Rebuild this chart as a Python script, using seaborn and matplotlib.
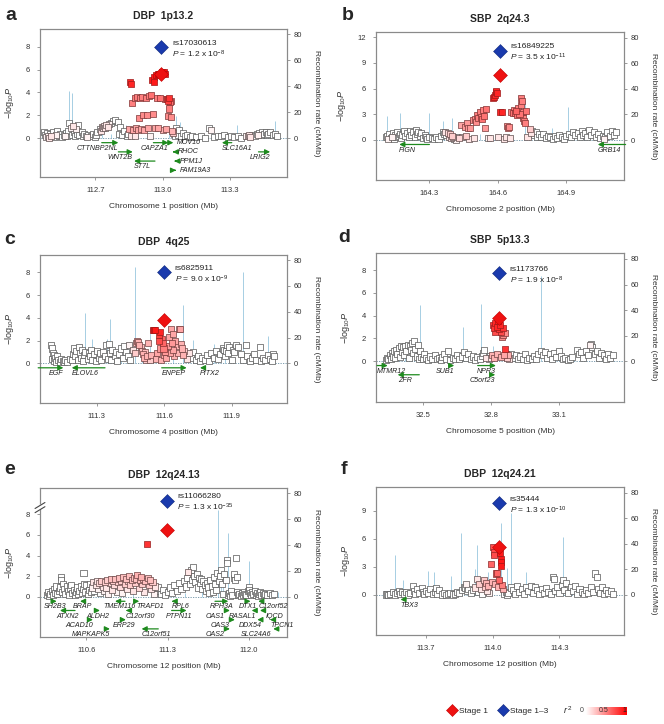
import numpy as np
import pandas as pd
import seaborn as sns
import matplotlib
matplotlib.use("Agg")
from matplotlib import pyplot as plt
from matplotlib.colors import LinearSegmentedColormap, Normalize
from matplotlib.cm import ScalarMappable
from matplotlib.lines import Line2D


# ---------------------------------------------------------------- data
# SNPs per panel: (position in Mb, -log10 P, r2 with the lead SNP)
a_snps = [
    (112.47, 0.55, 0), (112.475, 0.3, 0), (112.48, 0.1, 0.05), (112.485, 0.45, 0), (112.49, 0.2, 0.05),
    (112.495, 0.05, 0.1), (112.50, 0.35, 0), (112.505, 0.15, 0.1), (112.51, 0.5, 0), (112.52, 0.1, 0),
    (112.525, 0.3, 0.05), (112.53, 0.6, 0), (112.54, 0.2, 0), (112.545, 0.4, 0), (112.55, 0.1, 0),
    (112.56, 0.3, 0), (112.565, 0.15, 0.05), (112.57, 0.45, 0), (112.575, 0.2, 0), (112.58, 0.6, 0),
    (112.585, 1.35, 0), (112.59, 0.9, 0.05), (112.595, 0.3, 0), (112.60, 1.1, 0.1), (112.605, 0.5, 0),
    (112.61, 0.2, 0), (112.615, 0.8, 0.05), (112.62, 0.4, 0), (112.625, 1.15, 0), (112.63, 0.3, 0),
    (112.64, 0.5, 0), (112.645, 0.15, 0), (112.65, 0.35, 0), (112.66, 0.2, 0), (112.665, 0.1, 0.05),
    (112.67, 0.3, 0), (112.68, 0.15, 0), (112.69, 0.4, 0), (112.70, 0.1, 0), (112.705, 0.25, 0),
    (112.71, 0.5, 0), (112.72, 0.8, 0), (112.725, 0.6, 0.1), (112.73, 1.0, 0.1), (112.735, 0.85, 0.1),
    (112.74, 1.05, 0.1), (112.745, 0.9, 0.1), (112.75, 1.15, 0.1), (112.755, 1.0, 0.1), (112.76, 1.2, 0.05),
    (112.77, 1.35, 0), (112.78, 1.5, 0), (112.79, 1.6, 0), (112.80, 1.45, 0), (112.805, 0.4, 0),
    (112.81, 1.0, 0), (112.82, 0.3, 0), (112.83, 0.6, 0), (112.84, 0.2, 0), (112.845, 0.35, 0),
    (112.85, 0.8, 0.35), (112.855, 4.95, 0.85), (112.858, 4.75, 0.85), (112.86, 0.2, 0.1), (112.865, 3.1, 0.5),
    (112.87, 0.7, 0.35), (112.875, 3.55, 0.5), (112.878, 0.2, 0.1), (112.88, 0.85, 0.35), (112.885, 3.6, 0.5),
    (112.89, 0.75, 0.35), (112.893, 1.75, 0.45), (112.90, 3.55, 0.5), (112.905, 0.8, 0.35), (112.91, 3.6, 0.5),
    (112.912, 2.0, 0.45), (112.918, 0.75, 0.35), (112.925, 3.5, 0.5), (112.93, 2.05, 0.45), (112.935, 0.85, 0.35),
    (112.94, 3.7, 0.5), (112.945, 0.15, 0.05), (112.95, 3.8, 0.55), (112.955, 5.1, 0.9), (112.957, 2.1, 0.45),
    (112.96, 5.35, 0.9), (112.963, 4.95, 0.9), (112.965, 0.85, 0.35), (112.97, 5.5, 0.95), (112.975, 3.55, 0.5),
    (112.978, 5.6, 0.95), (112.98, 0.9, 0.35), (112.985, 5.65, 0.95), (112.99, 3.5, 0.55), (112.998, 5.75, 0.95),
    (113.0, 0.7, 0.3), (113.005, 5.8, 0.95), (113.01, 3.4, 0.5), (113.012, 5.65, 0.95), (113.015, 0.8, 0.35),
    (113.02, 3.45, 0.75), (113.022, 1.95, 0.45), (113.025, 3.3, 0.75), (113.028, 3.55, 0.8), (113.03, 2.6, 0.5),
    (113.033, 3.15, 0.55), (113.036, 1.85, 0.45), (113.038, 3.25, 0.5), (113.04, 0.65, 0.3), (113.045, 0.45, 0.2),
    (113.05, 0.35, 0), (113.055, 0.15, 0), (113.06, 0.9, 0), (113.065, 0.55, 0), (113.07, 0.3, 0),
    (113.075, 0.7, 0), (113.08, 0.2, 0), (113.09, 0.45, 0), (113.10, 0.15, 0), (113.11, 0.3, 0),
    (113.12, 0.1, 0), (113.13, 0.2, 0), (113.15, 0.1, 0), (113.17, 0.15, 0), (113.19, 0.05, 0),
    (113.205, 0.85, 0), (113.215, 0.7, 0.05), (113.23, 0.1, 0), (113.245, 0.2, 0), (113.26, 0.15, 0),
    (113.275, 0.25, 0), (113.29, 0.1, 0), (113.305, 0.2, 0), (113.32, 0.1, 0), (113.335, 0.15, 0),
    (113.35, 0.05, 0), (113.37, 0.2, 0.05), (113.38, 0.15, 0.1), (113.385, 0.25, 0.1), (113.39, 0.1, 0.1),
    (113.40, 0.3, 0), (113.41, 0.2, 0), (113.42, 0.4, 0), (113.425, 0.25, 0.05), (113.43, 0.45, 0),
    (113.44, 0.3, 0), (113.445, 0.55, 0), (113.45, 0.35, 0), (113.46, 0.5, 0), (113.465, 0.25, 0),
    (113.47, 0.4, 0), (113.48, 0.5, 0), (113.49, 0.3, 0), (113.50, 0.4, 0), (113.51, 0.2, 0),
]
a_rec_pos = [112.50, 112.53, 112.585, 112.595, 112.62, 112.66, 112.729, 112.77, 112.837, 112.89, 112.95,
             113.03, 113.06, 113.078, 113.12, 113.17, 113.219, 113.26, 113.33, 113.40, 113.45, 113.50]
a_rec_rate = [3, 2, 36, 35, 4, 2, 8, 3, 10, 2, 3, 4, 17, 12, 3, 2, 9, 2, 10, 3, 4, 13]
a_genes = [
    ("CTTNBP2NL", 112.729, 112.803, "+"), ("WNT2B", 112.803, 112.867, "+"), ("ST7L", 112.873, 112.966, "-"),
    ("CAPZA1", 112.959, 113.026, "+"), ("MOV10", 113.026, 113.048, "+"), ("RHOC", 113.045, 113.053, "-"),
    ("PPM1J", 113.052, 113.060, "-"), ("FAM19A3", 113.052, 113.060, "+"), ("SLC16A1", 113.264, 113.308, "-"),
    ("LRIG2", 113.427, 113.479, "+"),
]

b_snps = [
    (164.11, 0.3, 0), (164.115, 0.5, 0), (164.12, 0.1, 0.05), (164.125, 0.65, 0), (164.13, 0.2, 0),
    (164.135, 0.4, 0.05), (164.14, 0.8, 0), (164.145, 0.15, 0), (164.15, 0.6, 0), (164.155, 0.3, 0),
    (164.16, 0.9, 0), (164.165, 0.45, 0), (164.17, 0.75, 0), (164.175, 0.2, 0), (164.18, 0.6, 0),
    (164.19, 1.0, 0), (164.195, 0.5, 0), (164.20, 0.8, 0), (164.21, 0.35, 0), (164.215, 1.05, 0),
    (164.22, 0.6, 0), (164.23, 0.9, 0), (164.235, 0.3, 0), (164.24, 1.2, 0), (164.245, 0.7, 0),
    (164.25, 0.95, 0), (164.26, 0.5, 0), (164.265, 0.8, 0), (164.27, 0.2, 0), (164.28, 0.6, 0),
    (164.285, 0.35, 0), (164.29, 0.15, 0), (164.30, 0.4, 0), (164.31, 0.25, 0), (164.32, 0.1, 0),
    (164.33, 0.3, 0), (164.34, 0.15, 0), (164.35, 0.5, 0), (164.36, 0.9, 0), (164.365, 0.7, 0),
    (164.37, 0.95, 0.1), (164.375, 0.6, 0), (164.38, 0.85, 0.15), (164.385, 0.4, 0.1), (164.39, 0.7, 0.2),
    (164.395, 0.2, 0.1), (164.40, 0.5, 0.2), (164.405, 0.3, 0.1), (164.41, 0.1, 0), (164.415, 0.05, 0.05),
    (164.42, 0.3, 0), (164.43, 0.2, 0.15), (164.44, 1.7, 0.35), (164.445, 0.3, 0.1), (164.455, 1.55, 0.4),
    (164.46, 0.5, 0.2), (164.465, 1.95, 0.4), (164.47, 1.35, 0.4), (164.475, 0.15, 0.1), (164.48, 1.4, 0.4),
    (164.49, 2.3, 0.45), (164.495, 0.25, 0.1), (164.50, 2.5, 0.45), (164.505, 2.1, 0.45), (164.51, 2.9, 0.5),
    (164.515, 2.6, 0.5), (164.52, 3.3, 0.5), (164.525, 2.7, 0.5), (164.53, 2.4, 0.55), (164.535, 3.5, 0.5),
    (164.54, 2.8, 0.55), (164.545, 1.35, 0.4), (164.55, 3.6, 0.55), (164.555, 0.2, 0.05), (164.565, 0.25, 0.1),
    (164.58, 4.85, 0.8), (164.583, 5.05, 0.85), (164.588, 5.3, 0.85), (164.59, 5.6, 0.85), (164.593, 5.7, 0.85),
    (164.596, 5.5, 0.85), (164.60, 0.3, 0.1), (164.61, 3.3, 0.85), (164.618, 3.3, 0.85), (164.625, 0.15, 0.1),
    (164.635, 0.3, 0.1), (164.64, 1.6, 0.45), (164.645, 1.4, 0.45), (164.65, 1.55, 0.45), (164.655, 0.25, 0.1),
    (164.66, 3.3, 0.5), (164.665, 3.1, 0.55), (164.67, 3.5, 0.5), (164.675, 3.2, 0.55), (164.68, 3.4, 0.6),
    (164.685, 2.9, 0.55), (164.69, 3.7, 0.5), (164.695, 3.0, 0.55), (164.70, 4.1, 0.5), (164.703, 4.9, 0.5),
    (164.706, 4.6, 0.5), (164.71, 3.3, 0.5), (164.712, 2.6, 0.5), (164.715, 2.2, 0.5), (164.72, 1.95, 0.5),
    (164.725, 3.4, 0.55), (164.73, 0.3, 0.1), (164.74, 1.25, 0.2), (164.745, 0.8, 0.1), (164.75, 1.0, 0),
    (164.76, 0.6, 0), (164.765, 0.9, 0), (164.77, 0.4, 0), (164.78, 0.75, 0), (164.79, 0.3, 0),
    (164.80, 0.65, 0), (164.81, 0.2, 0), (164.82, 0.5, 0), (164.83, 0.3, 0), (164.84, 0.15, 0),
    (164.85, 0.5, 0), (164.86, 0.25, 0), (164.87, 0.6, 0), (164.88, 0.3, 0), (164.89, 0.1, 0),
    (164.90, 0.45, 0), (164.91, 0.7, 0), (164.92, 0.4, 0), (164.93, 0.9, 0), (164.94, 0.55, 0),
    (164.95, 0.8, 0), (164.96, 0.3, 0), (164.97, 1.0, 0), (164.975, 0.6, 0), (164.98, 0.85, 0),
    (164.99, 0.4, 0), (165.00, 1.2, 0), (165.01, 0.6, 0), (165.02, 0.9, 0), (165.03, 0.3, 0),
    (165.04, 0.7, 0), (165.05, 0.2, 0), (165.06, 0.5, 0), (165.065, 0.15, 0.05), (165.07, 0.35, 0),
    (165.08, 0.9, 0), (165.09, 0.5, 0), (165.10, 1.1, 0), (165.11, 0.6, 0), (165.12, 0.95, 0),
]
b_rec_pos = [164.113, 164.17, 164.24, 164.297, 164.361, 164.401, 164.45, 164.52, 164.717, 164.78, 164.838,
             164.907, 164.98, 165.05]
b_rec_rate = [19, 21, 4, 21, 15, 17, 3, 5, 31, 4, 9, 26, 3, 5]
b_genes = [("FIGN", 164.168, 164.30, "-"), ("GRB14", 165.038, 165.16, "-")]

c_snps = [
    (111.095, 1.65, 0), (111.10, 1.3, 0), (111.10, 0.4, 0), (111.105, 0.9, 0), (111.11, 0.2, 0),
    (111.11, 0.7, 0), (111.115, 0.45, 0), (111.12, 0.15, 0), (111.125, 0.6, 0), (111.13, 0.25, 0),
    (111.135, 0.1, 0), (111.14, 0.35, 0), (111.15, 0.2, 0), (111.155, 0.1, 0), (111.16, 0.3, 0),
    (111.17, 0.15, 0), (111.18, 0.4, 0), (111.19, 0.25, 0), (111.195, 0.8, 0), (111.20, 1.3, 0),
    (111.205, 0.6, 0), (111.21, 1.1, 0), (111.215, 0.3, 0), (111.22, 1.4, 0), (111.225, 0.9, 0),
    (111.23, 0.5, 0), (111.235, 1.2, 0), (111.24, 0.2, 0), (111.245, 0.7, 0), (111.25, 1.0, 0),
    (111.26, 0.4, 0), (111.265, 0.9, 0), (111.27, 0.6, 0), (111.275, 1.2, 0), (111.28, 0.3, 0),
    (111.29, 0.8, 0), (111.295, 0.2, 0), (111.30, 1.1, 0), (111.31, 0.5, 0), (111.315, 0.9, 0),
    (111.32, 0.3, 0), (111.33, 1.0, 0), (111.335, 0.6, 0), (111.34, 1.6, 0), (111.35, 0.4, 0),
    (111.355, 1.7, 0), (111.36, 0.9, 0), (111.365, 0.3, 0), (111.37, 1.2, 0), (111.38, 0.6, 0),
    (111.385, 1.0, 0), (111.39, 0.2, 0), (111.40, 0.8, 0), (111.41, 1.3, 0), (111.415, 0.5, 0),
    (111.42, 1.5, 0), (111.43, 1.0, 0), (111.44, 0.6, 0), (111.445, 1.6, 0.05), (111.45, 0.3, 0),
    (111.46, 1.2, 0.1), (111.47, 0.9, 0.2), (111.475, 1.8, 0.25), (111.48, 2.0, 0.3), (111.485, 1.9, 0.3),
    (111.49, 1.6, 0.3), (111.495, 1.4, 0.25), (111.50, 1.1, 0.25), (111.505, 0.8, 0.3), (111.51, 0.5, 0.3),
    (111.515, 1.0, 0.25), (111.52, 0.3, 0.2), (111.525, 0.6, 0.3), (111.53, 1.8, 0.3), (111.535, 0.3, 0.2),
    (111.54, 0.7, 0.3), (111.55, 2.95, 0.9), (111.555, 2.95, 0.9), (111.56, 2.95, 0.9), (111.565, 0.4, 0.3),
    (111.57, 0.9, 0.35), (111.575, 1.95, 0.7), (111.578, 2.45, 0.75), (111.58, 1.3, 0.4), (111.583, 2.75, 0.85),
    (111.585, 0.3, 0.3), (111.59, 2.15, 0.6), (111.593, 1.75, 0.6), (111.597, 1.3, 0.5), (111.60, 0.7, 0.35),
    (111.605, 1.0, 0.4), (111.61, 0.5, 0.35), (111.615, 1.5, 0.4), (111.62, 2.3, 0.35), (111.625, 0.9, 0.35),
    (111.63, 3.0, 0.35), (111.633, 1.8, 0.4), (111.638, 1.2, 0.35), (111.64, 2.6, 0.35), (111.645, 0.6, 0.3),
    (111.65, 2.0, 0.35), (111.655, 1.5, 0.3), (111.66, 0.9, 0.3), (111.665, 3.05, 0.3), (111.67, 3.0, 0.35),
    (111.675, 1.7, 0.3), (111.68, 1.3, 0.3), (111.685, 0.7, 0.3), (111.69, 1.1, 0.2), (111.70, 0.4, 0.1),
    (111.71, 0.9, 0.1), (111.72, 0.5, 0), (111.73, 1.0, 0), (111.74, 0.3, 0), (111.75, 0.6, 0),
    (111.76, 0.2, 0), (111.77, 0.5, 0), (111.78, 0.3, 0), (111.79, 0.7, 0), (111.80, 0.2, 0),
    (111.81, 0.9, 0), (111.82, 0.5, 0), (111.83, 1.1, 0), (111.84, 0.4, 0), (111.85, 0.8, 0),
    (111.86, 1.3, 0), (111.865, 1.2, 0), (111.87, 0.6, 0), (111.875, 1.1, 0), (111.88, 1.65, 0),
    (111.885, 0.9, 0), (111.89, 1.4, 0), (111.90, 0.3, 0), (111.905, 1.2, 0), (111.91, 1.0, 0),
    (111.92, 1.6, 0), (111.93, 1.4, 0), (111.94, 0.8, 0), (111.95, 0.3, 0), (111.965, 1.6, 0),
    (111.97, 0.6, 0), (111.98, 0.2, 0), (111.99, 0.5, 0), (112.00, 0.8, 0), (112.01, 0.3, 0),
    (112.025, 1.45, 0), (112.03, 0.2, 0), (112.04, 0.5, 0), (112.05, 0.3, 0), (112.06, 0.7, 0),
    (112.07, 0.4, 0), (112.08, 0.2, 0), (112.085, 0.8, 0), (112.09, 0.6, 0),
]
c_rec_pos = [111.12, 111.20, 111.248, 111.278, 111.31, 111.348, 111.359, 111.41, 111.471, 111.50, 111.537,
             111.64, 111.683, 111.73, 111.78, 111.823, 111.87, 111.952, 112.00, 112.063]
c_rec_rate = [3, 4, 39, 19, 5, 19, 34, 4, 75, 6, 28, 4, 45, 18, 3, 15, 4, 71, 5, 21]
c_genes = [("EGF", 111.04, 111.152, "+"), ("ELOVL6", 111.189, 111.337, "-"),
           ("ENPEP", 111.589, 111.70, "+"), ("PITX2", 111.759, 111.774, "-")]

d_snps = [
    (32.335, 0.1, 0), (32.34, 0.3, 0), (32.345, 0.15, 0), (32.35, 0.5, 0), (32.355, 0.2, 0),
    (32.36, 0.7, 0), (32.365, 0.4, 0), (32.37, 0.9, 0), (32.375, 0.25, 0), (32.38, 1.0, 0),
    (32.385, 0.6, 0), (32.39, 1.15, 0), (32.395, 0.35, 0), (32.40, 1.3, 0), (32.405, 0.8, 0),
    (32.41, 1.2, 0), (32.415, 0.5, 0), (32.42, 1.35, 0), (32.425, 0.9, 0), (32.43, 1.45, 0),
    (32.435, 0.3, 0), (32.44, 1.3, 0), (32.445, 1.0, 0), (32.45, 1.55, 0), (32.455, 0.7, 0),
    (32.46, 1.75, 0), (32.465, 1.1, 0), (32.47, 0.4, 0), (32.475, 1.4, 0), (32.48, 0.2, 0),
    (32.485, 0.9, 0), (32.49, 0.35, 0), (32.50, 0.15, 0), (32.505, 0.6, 0), (32.51, 0.3, 0),
    (32.52, 0.1, 0), (32.53, 0.4, 0), (32.54, 0.2, 0), (32.55, 0.55, 0), (32.56, 0.15, 0),
    (32.57, 0.3, 0), (32.58, 0.1, 0), (32.585, 0.35, 0), (32.59, 0.6, 0), (32.60, 0.2, 0),
    (32.61, 0.9, 0), (32.62, 0.1, 0), (32.63, 0.3, 0), (32.64, 0.15, 0), (32.65, 0.5, 0),
    (32.66, 0.2, 0), (32.67, 0.4, 0), (32.68, 0.8, 0), (32.69, 0.3, 0), (32.70, 0.6, 0),
    (32.71, 0.15, 0), (32.72, 0.4, 0), (32.73, 0.1, 0), (32.74, 0.35, 0), (32.75, 0.2, 0),
    (32.76, 0.45, 0), (32.765, 0.7, 0), (32.77, 1.0, 0), (32.78, 0.3, 0.1), (32.79, 0.15, 0.05),
    (32.795, 0.4, 0), (32.80, 0.25, 0.1), (32.805, 0.5, 0.3), (32.81, 3.15, 0.8), (32.812, 2.9, 0.8),
    (32.815, 0.3, 0.3), (32.818, 3.35, 0.85), (32.82, 2.55, 0.7), (32.825, 3.0, 0.85), (32.828, 0.6, 0.3),
    (32.83, 3.5, 0.9), (32.835, 2.85, 0.8), (32.84, 3.2, 0.85), (32.843, 2.6, 0.7), (32.846, 0.35, 0.3),
    (32.85, 2.15, 0.45), (32.852, 2.9, 0.8), (32.855, 2.3, 0.45), (32.858, 0.5, 0.35), (32.86, 2.5, 0.45),
    (32.863, 1.1, 0.8), (32.866, 0.6, 0.3), (32.87, 0.3, 0.2), (32.875, 0.5, 0.3), (32.88, 0.2, 0.1),
    (32.89, 0.6, 0), (32.90, 0.3, 0), (32.91, 0.5, 0), (32.92, 0.2, 0), (32.93, 0.4, 0),
    (32.94, 0.15, 0), (32.95, 0.6, 0), (32.96, 0.1, 0), (32.97, 0.3, 0), (32.98, 0.2, 0),
    (32.99, 0.45, 0), (33.00, 0.15, 0), (33.01, 0.6, 0), (33.02, 0.9, 0), (33.03, 0.5, 0),
    (33.04, 0.8, 0), (33.05, 0.3, 0), (33.06, 0.6, 0), (33.07, 0.15, 0), (33.08, 0.7, 0),
    (33.09, 0.35, 0), (33.10, 0.9, 0), (33.11, 0.4, 0), (33.12, 0.15, 0), (33.13, 0.3, 0),
    (33.14, 0.1, 0), (33.15, 0.2, 0), (33.16, 0.35, 0), (33.18, 1.0, 0), (33.19, 0.6, 0),
    (33.20, 0.8, 0), (33.21, 0.3, 0), (33.22, 0.9, 0), (33.23, 0.5, 0), (33.24, 1.4, 0.05),
    (33.245, 1.5, 0), (33.25, 1.2, 0), (33.26, 0.6, 0), (33.27, 0.9, 0), (33.28, 0.3, 0),
    (33.29, 0.7, 0), (33.30, 0.5, 0), (33.31, 0.2, 0), (33.32, 0.6, 0), (33.33, 0.3, 0),
    (33.34, 0.5, 0),
]
d_rec_pos = [32.35, 32.42, 32.486, 32.56, 32.62, 32.677, 32.72, 32.757, 32.807, 32.87, 32.95, 33.023,
             33.07, 33.11, 33.20, 33.30]
d_rec_rate = [3, 4, 44, 3, 5, 27, 4, 45, 12, 3, 4, 67, 4, 11, 3, 4]
d_genes = [("MTMR12", 32.295, 32.342, "+"), ("ZFR", 32.386, 32.482, "-"), ("SUB1", 32.615, 32.637, "+"),
           ("NPR3", 32.741, 32.822, "+"), ("C5orf23", 32.80, 32.819, "+")]

e_snps = [
    (110.26, 0.2, 0), (110.27, 0.5, 0), (110.28, 0.1, 0), (110.29, 0.3, 0), (110.30, 0.6, 0),
    (110.31, 0.2, 0), (110.32, 0.8, 0), (110.33, 0.4, 0), (110.34, 1.0, 0), (110.35, 0.3, 0),
    (110.36, 0.6, 0), (110.37, 0.9, 0), (110.38, 1.9, 0), (110.385, 1.6, 0), (110.39, 0.5, 0),
    (110.40, 1.2, 0), (110.41, 0.8, 0), (110.42, 0.3, 0), (110.43, 1.0, 0), (110.44, 0.6, 0),
    (110.45, 0.2, 0), (110.46, 0.9, 0), (110.47, 1.1, 0), (110.48, 0.4, 0), (110.49, 0.7, 0),
    (110.50, 0.2, 0), (110.51, 0.5, 0), (110.52, 0.9, 0), (110.53, 0.3, 0), (110.54, 0.6, 0),
    (110.55, 1.0, 0), (110.56, 0.4, 0), (110.57, 0.8, 0), (110.575, 2.35, 0), (110.58, 1.2, 0),
    (110.59, 0.5, 0), (110.60, 1.1, 0), (110.61, 0.3, 0), (110.62, 0.7, 0), (110.63, 1.2, 0),
    (110.64, 0.5, 0), (110.65, 0.9, 0.05), (110.66, 1.4, 0.1), (110.67, 0.6, 0), (110.68, 1.1, 0.1),
    (110.69, 1.55, 0.1), (110.70, 0.8, 0.05), (110.71, 1.3, 0.15), (110.72, 0.4, 0), (110.73, 1.5, 0.2),
    (110.74, 1.0, 0.1), (110.75, 0.6, 0.05), (110.76, 1.45, 0.2), (110.77, 0.9, 0.1), (110.78, 1.6, 0.2),
    (110.79, 0.3, 0.05), (110.80, 1.3, 0.15), (110.81, 1.7, 0.25), (110.82, 0.7, 0.1), (110.83, 1.5, 0.2),
    (110.84, 1.1, 0.15), (110.85, 1.75, 0.25), (110.86, 0.5, 0.05), (110.87, 1.4, 0.2), (110.88, 1.8, 0.25),
    (110.89, 1.0, 0.15), (110.90, 1.55, 0.2), (110.91, 0.4, 0.05), (110.92, 1.9, 0.25), (110.93, 1.2, 0.2),
    (110.94, 1.7, 0.25), (110.95, 0.8, 0.1), (110.96, 1.5, 0.2), (110.97, 2.05, 0.25), (110.98, 1.1, 0.2),
    (110.99, 1.6, 0.25), (111.00, 0.6, 0.1), (111.01, 1.85, 0.25), (111.02, 1.3, 0.2), (111.03, 1.7, 0.25),
    (111.04, 2.1, 0.3), (111.05, 0.9, 0.15), (111.06, 1.6, 0.25), (111.07, 1.9, 0.3), (111.08, 1.2, 0.2),
    (111.09, 1.75, 0.25), (111.10, 0.5, 0.1), (111.11, 1.5, 0.25), (111.12, 5.1, 0.8), (111.13, 1.8, 0.25),
    (111.14, 1.1, 0.2), (111.15, 1.6, 0.25), (111.16, 0.8, 0.1), (111.17, 1.4, 0.2), (111.18, 0.3, 0.05),
    (111.19, 1.0, 0.1), (111.20, 0.6, 0), (111.22, 0.9, 0), (111.24, 0.3, 0), (111.26, 0.7, 0),
    (111.28, 0.2, 0), (111.30, 0.5, 0), (111.32, 0.9, 0), (111.34, 0.4, 0), (111.36, 1.1, 0),
    (111.38, 0.6, 0), (111.40, 1.3, 0), (111.42, 0.8, 0), (111.44, 1.5, 0), (111.46, 1.0, 0),
    (111.47, 1.8, 0), (111.48, 2.4, 0.1), (111.49, 1.2, 0), (111.50, 2.6, 0), (111.51, 1.6, 0),
    (111.52, 2.9, 0), (111.53, 2.0, 0), (111.54, 1.4, 0), (111.55, 2.2, 0), (111.56, 0.9, 0),
    (111.57, 1.8, 0), (111.58, 1.3, 0), (111.59, 1.7, 0), (111.60, 0.8, 0), (111.61, 1.5, 0),
    (111.62, 1.1, 0), (111.63, 0.6, 0), (111.64, 1.3, 0), (111.65, 0.9, 0), (111.66, 0.4, 0),
    (111.67, 1.6, 0), (111.68, 1.0, 0), (111.69, 0.5, 0), (111.70, 1.9, 0), (111.71, 1.2, 0),
    (111.72, 0.7, 0), (111.73, 2.3, 0), (111.74, 1.5, 0), (111.75, 2.0, 0), (111.76, 2.6, 0),
    (111.77, 1.2, 0), (111.78, 0.3, 0), (111.79, 2.2, 0), (111.80, 1.6, 0), (111.81, 3.6, 0),
    (111.815, 3.3, 0), (111.82, 0.2, 0), (111.83, 0.4, 0), (111.84, 0.1, 0), (111.85, 0.6, 0),
    (111.86, 0.2, 0), (111.87, 1.8, 0), (111.875, 2.2, 0), (111.88, 1.6, 0), (111.89, 3.8, 0),
    (111.895, 1.9, 0), (111.90, 0.5, 0), (111.91, 0.2, 0), (111.92, 0.3, 0), (111.93, 0.1, 0),
    (111.94, 0.4, 0), (111.95, 0.2, 0), (111.96, 0.5, 0), (111.97, 0.3, 0), (111.98, 0.15, 0),
    (111.99, 0.6, 0), (112.00, 0.9, 0), (112.005, 0.7, 0), (112.01, 0.4, 0), (112.02, 0.2, 0),
    (112.03, 0.5, 0), (112.04, 0.3, 0), (112.05, 0.6, 0), (112.06, 0.2, 0), (112.07, 0.4, 0),
    (112.08, 0.1, 0), (112.09, 0.3, 0), (112.10, 0.5, 0), (112.11, 0.2, 0), (112.12, 0.4, 0),
    (112.13, 0.15, 0), (112.14, 0.3, 0), (112.16, 0.2, 0), (112.18, 0.4, 0), (112.20, 0.15, 0),
    (112.22, 0.3, 0),
]
e_rec_pos = [110.30, 110.45, 110.60, 110.80, 111.00, 111.20, 111.45, 111.60, 111.737, 111.76, 111.781,
             111.818, 111.85, 112.005, 112.05, 112.15, 112.25]
e_rec_rate = [3, 2, 3, 2, 4, 2, 3, 4, 67, 8, 15, 49, 6, 28, 5, 3, 4]
e_genes = [
    ("SH2B3", 110.309, 110.344, "+"), ("BRAP", 110.545, 110.588, "-"), ("TMEM116", 110.847, 110.933, "-"),
    ("TRAFD1", 111.028, 111.056, "+"), ("RPL6", 111.335, 111.358, "-"), ("RPH3A", 111.709, 111.824, "+"),
    ("DTX1", 111.973, 112.016, "+"), ("C12orf52", 112.082, 112.111, "-"), ("ATXN2", 110.372, 110.502, "-"),
    ("ALDH2", 110.689, 110.717, "+"), ("C12orf30", 110.941, 110.961, "-"), ("PTPN11", 111.335, 111.464, "+"),
    ("OAS1", 111.809, 111.838, "+"), ("RASAL1", 112.025, 112.068, "-"), ("IQCD", 112.097, 112.125, "-"),
    ("ACAD10", 110.614, 110.657, "+"), ("ERP29", 110.904, 110.941, "+"), ("OAS3", 111.852, 111.881, "+"),
    ("DDX54", 112.074, 112.111, "-"), ("TPCN1", 112.183, 112.211, "-"), ("MAPKAPK5", 110.760, 110.803, "+"),
    ("C12orf51", 111.076, 111.220, "-"), ("OAS2", 111.809, 111.838, "+"), ("SLC24A6", 112.211, 112.255, "-"),
]

f_snps = [
    (113.52, 0.05, 0), (113.525, 0.15, 0), (113.53, 0.0, 0), (113.54, 0.1, 0), (113.55, 0.3, 0),
    (113.56, 0.05, 0), (113.57, 0.2, 0), (113.58, 0.45, 0), (113.585, 0.1, 0), (113.59, 0.3, 0),
    (113.60, 0.15, 0), (113.61, 0.35, 0), (113.62, 0.05, 0), (113.63, 0.25, 0), (113.64, 0.95, 0),
    (113.645, 0.4, 0), (113.65, 0.1, 0), (113.66, 0.6, 0), (113.67, 0.2, 0), (113.68, 0.75, 0),
    (113.685, 0.3, 0), (113.69, 0.1, 0), (113.70, 0.45, 0), (113.71, 0.2, 0), (113.72, 0.6, 0),
    (113.73, 0.1, 0), (113.74, 0.3, 0), (113.745, 0.7, 0), (113.75, 0.15, 0), (113.76, 0.5, 0),
    (113.77, 0.05, 0), (113.78, 0.2, 0), (113.79, 0.0, 0), (113.80, 0.1, 0), (113.81, 0.25, 0),
    (113.82, 0.05, 0), (113.83, 0.15, 0), (113.84, 0.35, 0), (113.85, 0.2, 0), (113.86, 0.5, 0),
    (113.87, 0.9, 0), (113.875, 0.7, 0), (113.88, 1.15, 0.05), (113.885, 0.4, 0), (113.89, 0.6, 0),
    (113.90, 0.2, 0), (113.91, 0.5, 0), (113.92, 0.8, 0.1), (113.93, 1.7, 0.1), (113.935, 0.3, 0),
    (113.94, 1.2, 0.2), (113.945, 0.6, 0.1), (113.95, 0.1, 0), (113.96, 1.6, 0.2), (113.965, 0.9, 0.2),
    (113.97, 1.3, 0.3), (113.975, 0.4, 0.1), (113.98, 1.0, 0.3), (113.985, 0.2, 0.05), (113.99, 3.3, 0.6),
    (113.995, 1.4, 0.3), (114.003, 5.1, 0.7), (114.005, 4.6, 0.7), (114.007, 4.3, 0.7), (114.01, 1.2, 0.3),
    (114.015, 2.3, 0.6), (114.02, 2.35, 0.6), (114.025, 0.9, 0.3), (114.03, 1.6, 0.6), (114.033, 4.45, 0.9),
    (114.035, 3.9, 0.9), (114.036, 3.55, 0.9), (114.037, 3.1, 0.9), (114.04, 1.1, 0.5), (114.045, 0.6, 0.3),
    (114.05, 0.1, 0), (114.06, 0.3, 0), (114.065, 0.05, 0), (114.07, 0.2, 0), (114.08, 0.8, 0),
    (114.09, 0.5, 0), (114.10, 0.15, 0), (114.11, 1.0, 0), (114.12, 0.3, 0), (114.13, 0.6, 0),
    (114.14, 0.1, 0), (114.15, 0.9, 0), (114.16, 0.4, 0), (114.17, 1.0, 0), (114.18, 0.2, 0),
    (114.19, 0.85, 0), (114.20, 0.5, 0), (114.21, 0.1, 0), (114.22, 0.6, 0), (114.23, 0.2, 0),
    (114.24, 0.7, 0), (114.25, 0.3, 0), (114.26, 0.1, 0), (114.27, 1.95, 0), (114.275, 1.7, 0),
    (114.28, 0.4, 0), (114.29, 0.9, 0), (114.30, 0.2, 0), (114.31, 1.1, 0), (114.315, 1.6, 0),
    (114.32, 0.5, 0), (114.33, 1.3, 0), (114.34, 0.2, 0), (114.35, 0.9, 0), (114.36, 0.4, 0),
    (114.37, 1.0, 0), (114.38, 0.15, 0), (114.39, 0.6, 0), (114.40, 0.3, 0), (114.41, 0.1, 0),
    (114.42, 0.5, 0), (114.43, 0.2, 0), (114.44, 0.8, 0), (114.45, 0.3, 0), (114.46, 2.3, 0),
    (114.47, 1.9, 0), (114.475, 0.6, 0), (114.48, 0.2, 0), (114.49, 0.9, 0), (114.50, 0.1, 0),
    (114.51, 0.5, 0), (114.52, 0.2, 0), (114.53, 0.4, 0), (114.54, 0.1, 0),
]
f_rec_pos = [113.53, 113.562, 113.595, 113.65, 113.708, 113.735, 113.77, 113.81, 113.859, 113.90, 113.919,
             113.929, 113.979, 114.035, 114.062, 114.083, 114.148, 114.20, 114.26, 114.317, 114.358, 114.42, 114.50]
f_rec_rate = [3, 31, 12, 4, 19, 18, 3, 15, 48, 4, 20, 39, 18, 56, 21, 64, 18, 3, 5, 45, 8, 3, 4]
f_genes = [("TBX3", 113.585, 113.60, "-")]

# lead SNPs
panel_letters = ["a", "b", "c", "d", "e", "f"]
panel_titles = ["DBP  1p13.2", "SBP  2q24.3", "DBP  4q25", "SBP  5p13.3", "DBP  12q24.13", "DBP  12q24.21"]
chromosomes = [1, 2, 4, 5, 12, 12]
lead_pos = [112.995, 164.608, 111.60, 32.837, 111.292, 114.03]
stage1_logp = [5.6, 7.6, 3.8, 3.75, 6.45, 5.1]
stage13_logp = [7.95, 10.4, 8.0, 7.7, 9.3, 9.82]   # panel e is drawn above the axis break
lead_rs = ["rs17030613", "rs16849225", "rs6825911", "rs1173766", "rs11066280", "rs35444"]
p_mantissa = ["1.2", "3.5", "9.0", "1.9", "1.3", "1.3"]
p_exponent = [-8, -11, -9, -8, -35, -10]

# ---------------------------------------------------------------- layout
# gene track rows and label placement (c centre, s start, e end, l left, r right, i inline)
gene_row = {"CTTNBP2NL": 0, "WNT2B": 1, "ST7L": 2, "CAPZA1": 0, "MOV10": 0, "RHOC": 1, "PPM1J": 2,
            "FAM19A3": 3, "SLC16A1": 0, "LRIG2": 1,
            "MTMR12": 0, "ZFR": 1, "SUB1": 0, "NPR3": 0, "C5orf23": 1,
            "SH2B3": 0, "BRAP": 0, "TMEM116": 0, "TRAFD1": 0, "RPL6": 0, "RPH3A": 0, "DTX1": 0,
            "C12orf52": 0, "ATXN2": 1, "ALDH2": 1, "C12orf30": 1, "PTPN11": 1, "OAS1": 1, "RASAL1": 1,
            "IQCD": 1, "ACAD10": 2, "ERP29": 2, "OAS3": 2, "DDX54": 2, "TPCN1": 2, "MAPKAPK5": 3,
            "C12orf51": 3, "OAS2": 3, "SLC24A6": 3}
gene_place = {"CTTNBP2NL": "e", "WNT2B": "e", "ST7L": "s", "CAPZA1": "e", "MOV10": "i", "RHOC": "i",
              "PPM1J": "i", "FAM19A3": "i", "SLC16A1": "s", "LRIG2": "e",
              "FIGN": "s", "GRB14": "s", "EGF": "e", "ELOVL6": "s", "ENPEP": "c", "PITX2": "s",
              "MTMR12": "s", "ZFR": "s", "SUB1": "e", "NPR3": "e", "C5orf23": "e",
              "TRAFD1": "s", "RPL6": "s", "C12orf52": "s", "C12orf30": "s", "OAS1": "l", "RASAL1": "e",
              "IQCD": "r", "ACAD10": "e", "OAS3": "l", "DDX54": "e", "TPCN1": "s", "MAPKAPK5": "e",
              "C12orf51": "s", "OAS2": "l", "SLC24A6": "l", "TBX3": "s"}

FIG_W, FIG_H = 664, 724
boxes = [(40, 29, 287, 177), (376, 32, 624, 180), (40, 255, 287, 403),
         (376, 253, 624, 402), (40, 488, 287, 637), (376, 487, 624, 635)]
letter_xy = [(11, 15), (348, 15), (10, 239), (344, 238), (10, 469), (344, 469)]
xlims = [(112.454, 113.554), (164.066, 165.153), (111.048, 112.146),
         (32.29, 33.39), (110.2, 112.33), (113.475, 114.59)]
xtick_sets = [[112.7, 113.0, 113.3], [164.3, 164.6, 164.9], [111.3, 111.6, 111.9],
              [32.5, 32.8, 33.1], [110.6, 111.3, 112.0], [113.7, 114.0, 114.3]]
ylims = [(-3.4, 9.56), (-4.67, 12.6), (-3.49, 9.52), (-3.6, 9.5), (-3.9, 10.55), (-4.29, 11.57)]
ytick_sets = [[0, 2, 4, 6, 8], [0, 3, 6, 9, 12], [0, 2, 4, 6, 8], [0, 2, 4, 6, 8], [0, 2, 4, 6, 8], [0, 3, 6, 9]]
rec_ylims = [(-30, 84), (-31.2, 84.3), (-30.8, 84), (-32.1, 84.7), (-31.1, 84.2), (-31.3, 84.3)]

GREEN = "#1e8a1e"
RED = "#ee1111"
BLUE = "#1a3aad"
FRAME = "#8a8a8a"
TXT = "#333333"
REC = "#a6cee3"
r2_cmap = LinearSegmentedColormap.from_list("r2", ["#ffffff", "#ff0000"])
edge_cmap = LinearSegmentedColormap.from_list("r2edge", ["#555555", "#a81010"])

sns.set_style("ticks")
plt.rcParams["font.family"] = ["Liberation Sans", "DejaVu Sans"]
plt.rcParams["mathtext.fontset"] = "custom"
plt.rcParams["mathtext.rm"] = "Liberation Sans"
plt.rcParams["mathtext.it"] = "Liberation Sans:italic"
plt.rcParams["mathtext.bf"] = "Liberation Sans:bold"


def draw_genes(ax, genes, px_unit):
    for name, start, end, strand in genes:
        row = gene_row.get(name, 0)
        place = gene_place.get(name, "c")
        y_arrow = -(4.5 + 9.2 * row) / px_unit
        y_label = y_arrow - 5.7 / px_unit
        x_from, x_to = (start, end) if strand == "+" else (end, start)
        ax.annotate("", xy=(x_to, y_arrow), xytext=(x_from, y_arrow), annotation_clip=False,
                    arrowprops=dict(arrowstyle="-|>,head_length=0.5,head_width=0.25", color=GREEN,
                                    lw=0.9, shrinkA=0, shrinkB=0, mutation_scale=6))
        if place == "c":
            x, y, ha, dx = (start + end) / 2, y_label, "center", 0
        elif place == "s":
            x, y, ha, dx = start, y_label, "left", 0
        elif place == "e":
            x, y, ha, dx = end, y_label, "right", 0
        elif place == "l":
            x, y, ha, dx = start, y_label, "right", -1.5
        elif place == "r":
            x, y, ha, dx = end, y_label, "left", 1.5
        else:
            x, y, ha, dx = end, y_arrow, "left", 2.5
        ax.annotate(name, xy=(x, y), xytext=(dx, 0), textcoords="offset points", ha=ha, va="center",
                    fontsize=5.1, style="italic", color="#222222", annotation_clip=False)


def draw_panel(fig, i, snps, rec_pos, rec_rate, genes):
    x0, y0, x1, y1 = boxes[i]
    ax = fig.add_axes([x0 / FIG_W, 1 - y1 / FIG_H, (x1 - x0) / FIG_W, (y1 - y0) / FIG_H])
    ax2 = ax.twinx()
    ax.set_zorder(ax2.get_zorder() + 1)
    ax.patch.set_visible(False)

    # recombination rate
    ax2.vlines(rec_pos, 0, rec_rate, color=REC, lw=0.7)
    ax2.axhline(0, color="#6b8fa3", lw=0.6, ls=(0, (1.5, 1.5)))
    ax2.set_ylim(rec_ylims[i])
    ax2.set_yticks([0, 20, 40, 60, 80])
    ax2.set_ylabel("Recombination rate (cM/Mb)", rotation=270, va="bottom", fontsize=6,
                   color=TXT, labelpad=8)
    ax2.tick_params(axis="y", direction="out", length=2.2, width=0.6, color=FRAME,
                    labelsize=5.5, labelcolor=TXT, pad=2.4)

    # SNPs, strongest LD drawn last
    df = pd.DataFrame(snps, columns=["pos", "logp", "r2"]).sort_values("r2", kind="stable")
    edges = [edge_cmap(v) for v in df["r2"]]
    sns.scatterplot(data=df, x="pos", y="logp", hue="r2", palette=r2_cmap, hue_norm=(0, 1),
                    marker="s", s=19, edgecolor=edges, linewidth=0.5, legend=False, ax=ax, zorder=3)

    # lead SNP in stage 1 and in stages 1-3
    sns.scatterplot(x=[lead_pos[i]], y=[stage1_logp[i]], marker="D", s=50, color=RED,
                    edgecolor="#c00000", linewidth=0.4, ax=ax, zorder=5)
    sns.scatterplot(x=[lead_pos[i]], y=[stage13_logp[i]], marker="D", s=50, color=BLUE,
                    edgecolor="#10287a", linewidth=0.4, ax=ax, zorder=5)
    ax.annotate(lead_rs[i], xy=(lead_pos[i], stage13_logp[i]), xytext=(7.5, 3),
                textcoords="offset points", fontsize=6, color="#222222", va="center", ha="left")
    ax.annotate(r"$\mathit{P}$ = %s x 10$^{%d}$" % (p_mantissa[i], p_exponent[i]),
                xy=(lead_pos[i], stage13_logp[i]), xytext=(7.5, -4.8),
                textcoords="offset points", fontsize=6, color="#222222", va="center", ha="left")

    px_unit = (y1 - y0) / (ylims[i][1] - ylims[i][0])
    draw_genes(ax, genes, px_unit)

    ax.set_xlim(xlims[i])
    ax.set_ylim(ylims[i])
    ax.set_xticks(xtick_sets[i])
    ax.set_xticklabels(["%.1f" % t for t in xtick_sets[i]])
    ax.set_yticks(ytick_sets[i])
    ax.tick_params(axis="both", direction="out", length=2.2, width=0.6, color=FRAME,
                   labelsize=5.5, labelcolor=TXT)
    ax.tick_params(axis="x", pad=5.2)
    ax.tick_params(axis="y", pad=4.8)
    ax.set_xlabel("Chromosome %d position (Mb)" % chromosomes[i], fontsize=6, color=TXT, labelpad=6)
    ax.set_ylabel(r"$\mathrm{-log}_{10}\mathit{P}$", fontsize=6.5, color=TXT, labelpad=7)
    ax.set_title(panel_titles[i], fontsize=7.5, fontweight="bold", pad=7)
    for a in (ax, ax2):
        for sp in a.spines.values():
            sp.set_visible(True)
            sp.set_color(FRAME)
            sp.set_linewidth(0.8)

    if i == 4:
        # axis break mark on the -log10 P axis
        yb = (8.65 - ylims[i][0]) / (ylims[i][1] - ylims[i][0])
        ax.plot([-0.006, 0.006], [yb - 0.012, yb + 0.012], transform=ax.transAxes, color="white",
                lw=2.5, clip_on=False, zorder=6)
        for d in (-0.014, 0.014):
            ax.plot([-0.02, 0.02], [yb + d - 0.02, yb + d + 0.02], transform=ax.transAxes,
                    color="#444444", lw=0.8, clip_on=False, zorder=7)

    lx, ly = letter_xy[i]
    fig.text(lx / FIG_W, 1 - ly / FIG_H, panel_letters[i], fontsize=14, fontweight="bold",
             ha="center", va="center")


fig = plt.figure(figsize=(FIG_W / 100, FIG_H / 100), dpi=100)
panel_data = [(a_snps, a_rec_pos, a_rec_rate, a_genes), (b_snps, b_rec_pos, b_rec_rate, b_genes),
              (c_snps, c_rec_pos, c_rec_rate, c_genes), (d_snps, d_rec_pos, d_rec_rate, d_genes),
              (e_snps, e_rec_pos, e_rec_rate, e_genes), (f_snps, f_rec_pos, f_rec_rate, f_genes)]
for i, (snps, rpos, rrate, genes) in enumerate(panel_data):
    draw_panel(fig, i, snps, rpos, rrate, genes)

# legend
handles = [Line2D([], [], marker="D", ls="none", markersize=6.5, markerfacecolor=RED,
                  markeredgecolor="#c00000", markeredgewidth=0.4, label="Stage 1"),
           Line2D([], [], marker="D", ls="none", markersize=6.5, markerfacecolor=BLUE,
                  markeredgecolor="#10287a", markeredgewidth=0.4, label="Stage 1\u20133")]
fig.legend(handles=handles, loc="center", bbox_to_anchor=(498 / FIG_W, 1 - 711 / FIG_H), ncol=2,
           frameon=False, fontsize=6, handletextpad=0.3, columnspacing=1.3, handlelength=1.0)
cax = fig.add_axes([586 / FIG_W, 1 - 715 / FIG_H, 41 / FIG_W, 8 / FIG_H])
cb = fig.colorbar(ScalarMappable(Normalize(0, 1), r2_cmap), cax=cax, orientation="horizontal")
cb.set_ticks([])
cb.outline.set_visible(False)
cax.text(0.42, 0.5, "0.5", transform=cax.transAxes, fontsize=5, ha="center", va="center",
         color="#333333", zorder=5)
cax.text(0.93, 0.5, "1", transform=cax.transAxes, fontsize=5, ha="center", va="center",
         color="#222222", zorder=5)
fig.text(582 / FIG_W, 1 - 711 / FIG_H, "0", fontsize=5, ha="center", va="center", color="#444444")
fig.text(568 / FIG_W, 1 - 710 / FIG_H, r"$\mathit{r}^{\,2}$", fontsize=6.5, ha="center", va="center")

fig.savefig("out.png", dpi=100)
